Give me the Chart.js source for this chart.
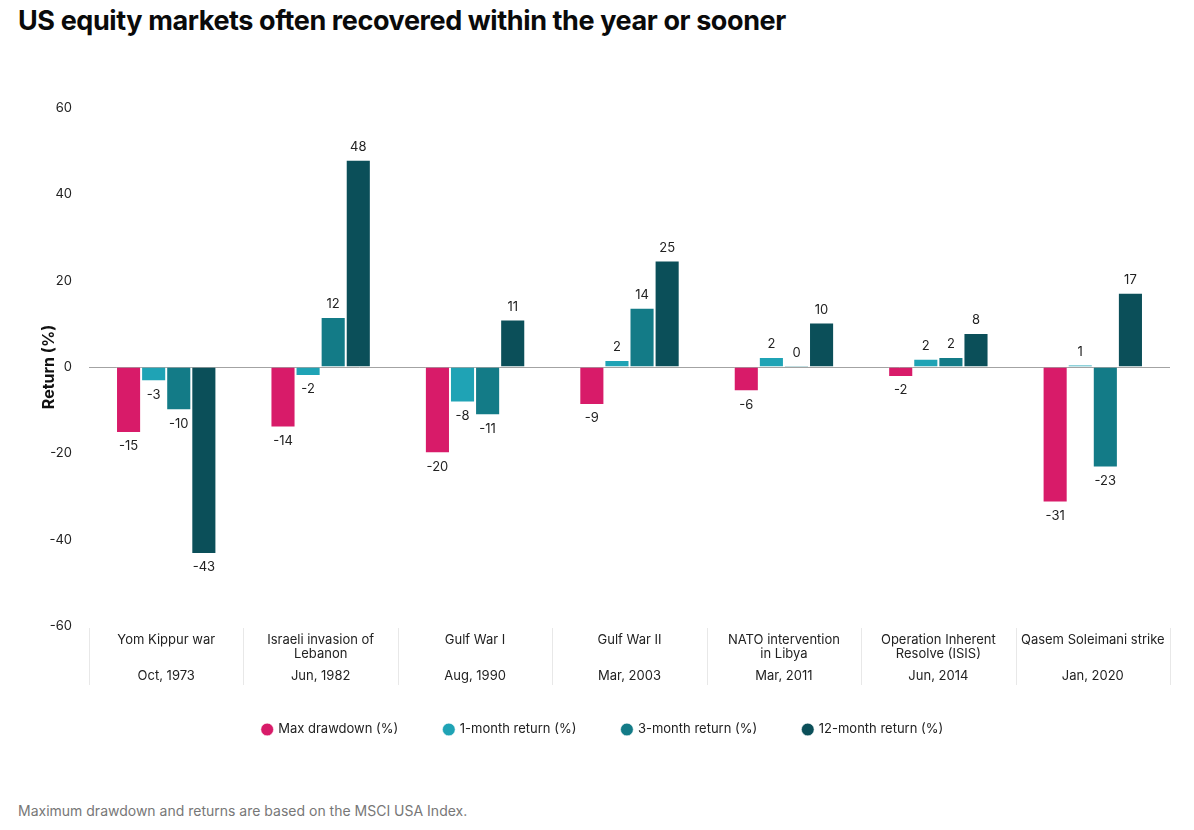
<!DOCTYPE html>
<html>
<head>
<meta charset="utf-8">
<title>US equity markets often recovered within the year or sooner</title>
<script src="https://cdn.jsdelivr.net/npm/chart.js@4.4.0/dist/chart.umd.min.js"></script>
<style>
  body { margin: 0; background: #fff; font-family: Inter, "Noto Sans", sans-serif; }
  #title { position: absolute; left: 18px; top: 4px; font-size: 27px; font-weight: 700; color: #0a0a0a; letter-spacing: -0.4px; }
  #wrap { position: absolute; left: 0; top: 50px; width: 1194px; height: 720px; }
  #note { position: absolute; left: 18px; top: 802px; font-size: 14px; color: #777; }
</style>
</head>
<body>
<div id="title">US equity markets often recovered within the year or sooner</div>
<div id="wrap"><canvas id="returnsChart"></canvas></div>
<div id="note">Maximum drawdown and returns are based on the MSCI USA Index.</div>

<script>
// event names (multi-line) and dates
const events = [
    ['Yom Kippur war'],
    ['Israeli invasion of', 'Lebanon'],
    ['Gulf War I'],
    ['Gulf War II'],
    ['NATO intervention', 'in Libya'],
    ['Operation Inherent', 'Resolve (ISIS)'],
    ['Qasem Soleimani strike']
];
const eventDates = ['Oct, 1973', 'Jun, 1982', 'Aug, 1990', 'Mar, 2003', 'Mar, 2011', 'Jun, 2014', 'Jan, 2020'];

// series values (%)
const maxDrawdown = [-15.3, -14, -20, -8.8, -5.6, -2.3, -31.4];
const oneMonth = [-3.3, -2.1, -8.2, 1.6, 2.3, 1.9, 0.6];
const threeMonth = [-10, 11.6, -11.2, 13.7, 0.4, 2.3, -23.3];
const twelveMonth = [-43.3, 48, 11, 24.7, 10.3, 7.9, 17.2];

const yTicks = [-60, -40, -20, 0, 20, 40, 60];

const seriesNames = ['Max drawdown (%)', '1-month return (%)', '3-month return (%)', '12-month return (%)'];
const seriesColors = ['#d81b69', '#1fa3b5', '#137b87', '#0b4f59'];

const FONT = 'Inter, "Noto Sans", sans-serif';

// value labels on bar ends, dates and separators under the axis
const barLabels = {
    id: 'barLabels',
    afterDatasetsDraw(chart) {
        const ctx = chart.ctx;
        ctx.save();
        ctx.font = '13px ' + FONT;
        ctx.fillStyle = '#222';
        ctx.textAlign = 'center';
        chart.data.datasets.forEach((ds, i) => {
            const meta = chart.getDatasetMeta(i);
            meta.data.forEach((bar, j) => {
                const v = ds.data[j];
                const txt = String(Math.round(v));
                if (v >= 0) {
                    ctx.textBaseline = 'bottom';
                    ctx.fillText(txt, bar.x, bar.y - 6);
                } else {
                    ctx.textBaseline = 'top';
                    ctx.fillText(txt, bar.x, bar.y + 7);
                }
            });
        });

        const x = chart.scales.x;
        const area = chart.chartArea;
        const step = x.getPixelForValue(1) - x.getPixelForValue(0);
        ctx.strokeStyle = '#e8e8e8';
        ctx.lineWidth = 1;
        for (let i = 0; i <= events.length; i++) {
            const px = Math.round(x.getPixelForValue(i) - step / 2) + 0.5;
            ctx.beginPath();
            ctx.moveTo(px, area.bottom + 2);
            ctx.lineTo(px, area.bottom + 59);
            ctx.stroke();
        }
        ctx.textBaseline = 'middle';
        eventDates.forEach((d, i) => {
            ctx.fillText(d, x.getPixelForValue(i), area.bottom + 50);
        });
        ctx.restore();
    }
};

function initReturnsChart() {
    const ctx = document.getElementById('returnsChart');
    const series = [maxDrawdown, oneMonth, threeMonth, twelveMonth];

    new Chart(ctx, {
        type: 'bar',
        data: {
            labels: events,
            datasets: series.map((data, i) => ({
                label: seriesNames[i],
                data: data,
                backgroundColor: seriesColors[i],
                borderColor: 'rgba(255,255,255,0.55)',
                borderWidth: 1,
                categoryPercentage: 0.65,
                barPercentage: 1
            }))
        },
        options: {
            responsive: true,
            maintainAspectRatio: false,
            animation: false,
            layout: { padding: { top: 58, right: 24, left: 36, bottom: 24 } },
            plugins: {
                legend: {
                    position: 'bottom',
                    labels: {
                        usePointStyle: true,
                        pointStyle: 'circle',
                        boxWidth: 9,
                        boxHeight: 9,
                        padding: 46,
                        color: '#222',
                        font: { family: FONT, size: 13 }
                    }
                },
                tooltip: { enabled: false }
            },
            scales: {
                x: {
                    grid: { display: false },
                    border: { display: false },
                    ticks: {
                        color: '#222',
                        padding: -1,
                        maxRotation: 0,
                        autoSkip: false,
                        font: { family: FONT, size: 13, lineHeight: 1.1 }
                    },
                    afterFit(scale) { scale.height = 51; }
                },
                y: {
                    min: yTicks[0],
                    max: yTicks[yTicks.length - 1],
                    afterBuildTicks(scale) { scale.ticks = yTicks.map(v => ({ value: v })); },
                    grid: {
                        drawTicks: false,
                        color: c => c.tick && c.tick.value === 0 ? '#a3a3a3' : 'rgba(0,0,0,0)'
                    },
                    border: { display: false },
                    ticks: {
                        color: '#222',
                        padding: 17,
                        font: { family: FONT, size: 13 }
                    },
                    title: {
                        display: true,
                        text: 'Return (%)',
                        color: '#111',
                        padding: { bottom: 14 },
                        font: { family: FONT, size: 16, weight: 'bold' }
                    },
                    afterFit(scale) { scale.width = 53; }
                }
            }
        },
        plugins: [barLabels]
    });
}

initReturnsChart();
</script>
</body>
</html>
